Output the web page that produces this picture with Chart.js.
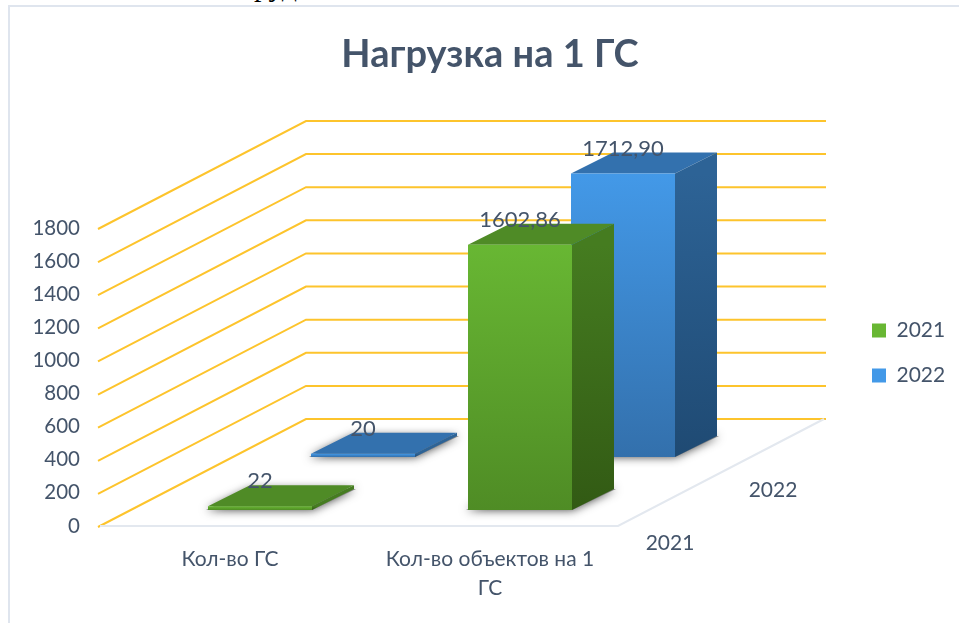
<!DOCTYPE html>
<html>
<head>
<meta charset="utf-8">
<style>
  html, body { margin: 0; padding: 0; background: #fff; overflow: hidden; }
  #frame { position: absolute; left: 8px; top: 5px; width: 951px; height: 618px;
           border-left: 2px solid #dfe5ee; border-top: 2px solid #dfe5ee; box-sizing: border-box; }
  #cut { position: absolute; left: 254px; top: -31px; font: 30px "Liberation Serif", serif; color: #000; }
  canvas { position: absolute; left: 0; top: 0; }
</style>
<script src="https://cdn.jsdelivr.net/npm/chart.js@4"></script>
</head>
<body>
<div id="cut">руд</div>
<div id="frame"></div>
<canvas id="chart" width="959" height="623"></canvas>
<script>
const categories = ['Кол-во ГС', ['Кол-во объектов на 1', 'ГС']];
const years = ['2021', '2022'];
const values2021 = [22, 1602.86];
const values2022 = [20, 1712.90];

// how far each row and the walls sit behind the front plane
const rows = [{ dx: 30, dy: 16 }, { dx: 133, dy: 69 }];
const wall = { dx: 206, dy: 107 };
const barDepth = { dx: 42, dy: 21 };

const textColor = '#44546a';
const fontName = 'Lato, "Open Sans", sans-serif';

const palette = [
    { front: ['#68b733', '#4f8c25'], top: '#4f8b26', side: ['#457c20', '#325a14'], legend: '#5a9e2c' },
    { front: ['#4399e8', '#3370ac'], top: '#3371ae', side: ['#2d6396', '#1f4a73'], legend: '#3b84c8' },
];

function frontFill(i) {
    return function (c) {
        const y = c.chart.scales.y;
        // the legend and the first pass have no usable pixel yet
        if (c.type !== 'data' || !y) return palette[i].legend;
        const y0 = y.getPixelForValue(c.raw), y1 = y.getPixelForValue(0);
        if (!Number.isFinite(y0) || !Number.isFinite(y1)) return palette[i].legend;
        const g = c.chart.ctx.createLinearGradient(0, y0, 0, y1);
        g.addColorStop(0, palette[i].front[0]);
        g.addColorStop(1, palette[i].front[1]);
        return g;
    };
}

function poly(ctx, pts, fill) {
    ctx.beginPath();
    pts.forEach((p, i) => (i ? ctx.lineTo(p[0], p[1]) : ctx.moveTo(p[0], p[1])));
    ctx.closePath();
    ctx.fillStyle = fill;
    ctx.fill();
}

const box3d = {
    id: 'box3d',
    afterLayout(chart) {
        // legend and title do not follow the plot area here
        const l = chart.legend;
        const h = l.bottom - l.top;
        l.left = 848;
        l.right = 959;
        l.top = 353 - h / 2;
        l.bottom = l.top + h;
        chart.titleBlock.left = 21;
        chart.titleBlock.right = 959;
    },
    beforeDatasetsDraw(chart) {
        const { ctx, scales: { y }, chartArea: { left, right, bottom } } = chart;
        ctx.save();
        ctx.strokeStyle = '#fdc42c';
        ctx.lineWidth = 2;
        y.ticks.forEach(t => {
            const py = y.getPixelForValue(t.value);
            ctx.beginPath();
            ctx.moveTo(left - 2, py + 1);
            ctx.lineTo(left + wall.dx, py - wall.dy);
            ctx.lineTo(right + wall.dx, py - wall.dy);
            ctx.stroke();
        });
        ctx.strokeStyle = '#e3e8ef';
        ctx.lineWidth = 2;
        ctx.beginPath();
        ctx.moveTo(left, bottom);
        ctx.lineTo(right - 2, bottom);
        ctx.lineTo(right + wall.dx - 2, bottom - wall.dy);
        ctx.stroke();
        ctx.restore();
    },
    beforeDatasetDraw(chart, args) {
        const ctx = chart.ctx;
        const row = rows[args.index];
        const colors = palette[args.index];
        ctx.save();
        ctx.translate(row.dx, -row.dy);
        args.meta.data.forEach(bar => {
            const { x, y, base, width } = bar.getProps(['x', 'y', 'base', 'width'], true);
            const l = x - width / 2, r = x + width / 2;
            const d = barDepth;
            // soft shadow under the box
            ctx.save();
            ctx.shadowColor = 'rgba(0,0,0,0.75)';
            ctx.shadowBlur = 10;
            poly(ctx, [[l - 2, base], [r, base], [r + d.dx + 2, base - d.dy], [l + d.dx, base - d.dy]], '#888');
            ctx.restore();
            poly(ctx, [[l, y], [r, y], [r + d.dx, y - d.dy], [l + d.dx, y - d.dy]], colors.top);
            const g = ctx.createLinearGradient(0, y, 0, base);
            g.addColorStop(0, colors.side[0]);
            g.addColorStop(1, colors.side[1]);
            poly(ctx, [[r, y], [r + d.dx, y - d.dy], [r + d.dx, base - d.dy], [r, base]], g);
        });
    },
    afterDatasetDraw(chart) {
        chart.ctx.restore();
    },
    afterDatasetsDraw(chart) {
        const { ctx, chartArea: { right, bottom } } = chart;
        ctx.save();
        ctx.fillStyle = textColor;
        ctx.textAlign = 'center';
        ctx.textBaseline = 'middle';
        chart.data.datasets.forEach((ds, i) => {
            ctx.font = '22px ' + fontName;
            chart.getDatasetMeta(i).data.forEach((bar, j) => {
                const v = ds.data[j];
                const text = Number.isInteger(v) ? String(v) : v.toFixed(2).replace('.', ',');
                ctx.fillText(text, bar.x + rows[i].dx, bar.y - rows[i].dy - 25);
            });
            ctx.font = '21px ' + fontName;
            ctx.fillText(years[i], right + rows[i].dx + 20, bottom - rows[i].dy + 33);
        });
        ctx.restore();
    },
};

new Chart(document.getElementById('chart'), {
    type: 'bar',
    plugins: [box3d],
    data: {
        labels: categories,
        datasets: [
            { label: years[0], data: values2021, backgroundColor: frontFill(0), clip: false },
            { label: years[1], data: values2022, backgroundColor: frontFill(1), clip: false },
        ],
    },
    options: {
        responsive: false,
        animation: false,
        grouped: false,
        categoryPercentage: 0.4,
        barPercentage: 1,
        layout: { padding: { left: 10, right: 239, top: 0, bottom: 0 } },
        scales: {
            x: {
                grid: { display: false, drawTicks: false },
                border: { display: false },
                ticks: {
                    color: textColor,
                    padding: 19,
                    maxRotation: 0,
                    font: { family: fontName, size: 21, lineHeight: 1.38 },
                },
                afterFit(scale) { scale.height = 97; },
            },
            y: {
                min: 0,
                max: 1800,
                grid: { display: false, drawTicks: false },
                border: { display: false },
                ticks: {
                    stepSize: 200,
                    color: textColor,
                    padding: 20,
                    font: { family: fontName, size: 20.5 },
                    callback: v => String(v),
                },
                afterFit(scale) { scale.width = 90; },
            },
        },
        plugins: {
            tooltip: { enabled: false },
            title: {
                display: true,
                text: 'Нагрузка на 1 ГС',
                color: textColor,
                font: { family: fontName, size: 38, weight: 'bold' },
                padding: { top: 32, bottom: 150.4 },
            },
            legend: {
                position: 'right',
                maxWidth: 100,
                labels: {
                    color: textColor,
                    boxWidth: 14,
                    boxHeight: 14,
                    padding: 24,
                    font: { family: fontName, size: 21 },
                },
            },
        },
    },
});
</script>
</body>
</html>
